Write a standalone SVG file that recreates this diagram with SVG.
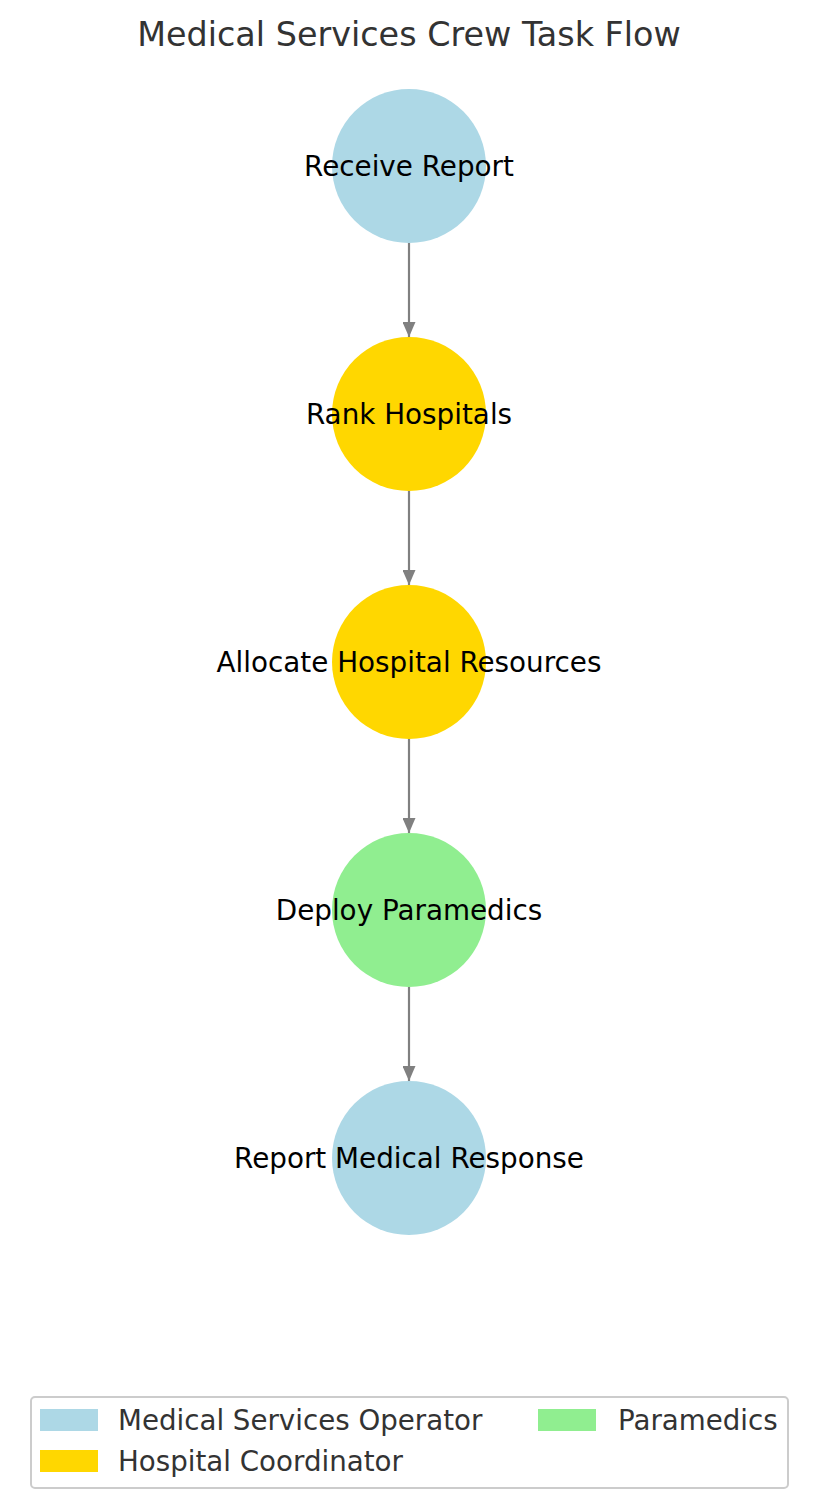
<svg xmlns="http://www.w3.org/2000/svg" width="831" height="1508" viewBox="0 0 831 1508">
<style>
text{font-family:"DejaVu Sans",sans-serif}
.title{font-size:33.4px;fill:#333;text-anchor:middle}
.lbl{font-size:27.8px;fill:#000;text-anchor:middle;dominant-baseline:central}
.leg{font-size:27.7px;fill:#333}
.edge{stroke:#808080;stroke-width:2.2;fill:none}
</style>
<defs>
<marker id="ah" viewBox="0 0 15 13" refX="15" refY="6.5" markerWidth="15" markerHeight="13" markerUnits="userSpaceOnUse" orient="auto">
<path d="M0,0 L15,6.5 L0,13 Z" fill="#808080"/>
</marker>
</defs>
<rect width="831" height="1508" fill="#fff"/>
<text class="title" x="409" y="46">Medical Services Crew Task Flow</text>
<g id="connectors">
<line class="edge" x1="409" y1="243" x2="409" y2="337" marker-end="url(#ah)"/>
<line class="edge" x1="409" y1="491" x2="409" y2="585" marker-end="url(#ah)"/>
<line class="edge" x1="409" y1="739" x2="409" y2="833" marker-end="url(#ah)"/>
<line class="edge" x1="409" y1="987" x2="409" y2="1081" marker-end="url(#ah)"/>
</g>
<g id="n1"><circle cx="409" cy="166" r="77" fill="#ADD8E6"/><text class="lbl" x="409" y="166">Receive Report</text></g>
<g id="n2"><circle cx="409" cy="414" r="77" fill="#FFD700"/><text class="lbl" x="409" y="414">Rank Hospitals</text></g>
<g id="n3"><circle cx="409" cy="662" r="77" fill="#FFD700"/><text class="lbl" x="409" y="662">Allocate Hospital Resources</text></g>
<g id="n4"><circle cx="409" cy="910" r="77" fill="#90EE90"/><text class="lbl" x="409" y="910">Deploy Paramedics</text></g>
<g id="n5"><circle cx="409" cy="1158" r="77" fill="#ADD8E6"/><text class="lbl" x="409" y="1158">Report Medical Response</text></g>
<g id="legend">
<rect x="31" y="1397" width="757" height="91" rx="4" fill="#fff" stroke="#cccccc" stroke-width="2"/>
<rect x="40" y="1409" width="58" height="22" fill="#ADD8E6"/>
<text class="leg" x="118" y="1430">Medical Services Operator</text>
<rect x="40" y="1450" width="58" height="22" fill="#FFD700"/>
<text class="leg" x="118" y="1471">Hospital Coordinator</text>
<rect x="538" y="1409" width="58" height="22" fill="#90EE90"/>
<text class="leg" x="618" y="1430">Paramedics</text>
</g>
</svg>
